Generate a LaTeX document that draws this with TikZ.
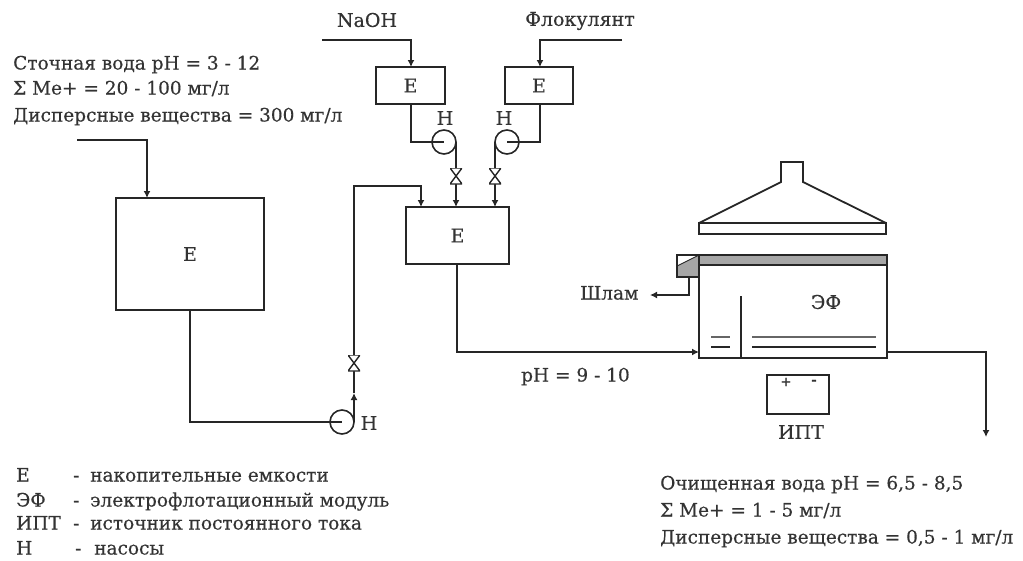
\documentclass[tikz,border=0pt]{standalone}
\usepackage{fontspec}
\setmainfont[FakeBold=0.4]{DejaVu Serif}
\usetikzlibrary{arrows.meta}
\tikzset{
  x=1pt,y=-1pt,
  line/.style={draw=black!85,line width=1.8pt},
  flow/.style={line,-{Latex[length=7pt,width=7pt]}},
  tank/.style={draw=black!85,line width=1.8pt,inner sep=0pt,outer sep=0pt,font=\fontsize{19}{19}\selectfont,text=black!80},
  pump/.style={circle,draw=black!85,line width=1.6pt,minimum size=24pt,inner sep=0pt,outer sep=0pt},
  valve/.style={minimum width=12pt,minimum height=16pt,inner sep=0pt,
    path picture={\draw[black!85,line width=1.4pt,fill=white]
      (path picture bounding box.north west)--(path picture bounding box.north east)
      --(path picture bounding box.south west)--(path picture bounding box.south east)--cycle;}},
  lbl/.style={inner sep=0pt,anchor=base west,yshift=-6.5pt,font=\fontsize{18.5}{20}\selectfont,text=black!80},
  clbl/.style={inner sep=0pt,font=\fontsize{19}{20}\selectfont,text=black!80}
}
\begin{document}
\begin{tikzpicture}
\useasboundingbox (0,0) rectangle (1023,560);
% tanks
\node[tank,minimum width=69pt,minimum height=37pt] (e1) at (410.5,85.5) {Е};
\node[tank,minimum width=68pt,minimum height=37pt] (e2) at (539,85.5) {Е};
\node[tank,minimum width=103pt,minimum height=57pt] (e3) at (457.5,235.5) {Е};
\node[tank,minimum width=148pt,minimum height=112pt] (e4) at (190,254) {Е};
% pumps
\node[pump] (p1) at (444,142) {};
\node[pump] (p2) at (507,142) {};
\node[pump] (p3) at (342,422) {};
\coordinate (f1) at (77,140);
\coordinate (f1b) at (147,140);
\coordinate (n1) at (322,40);
\coordinate (n1b) at (411,40);
\coordinate (n2) at (622,40);
\coordinate (n2b) at (540,40);
% reagent feeds
\draw[flow] (n1)--(n1b)--(e1.north-|n1b);
\draw[flow] (n2)--(n2b)--(e2.north-|n2b);
\draw[flow] (f1)--(f1b)--(e4.north-|f1b);
% E to pumps
\draw[line] (e1.south-|n1b)--(411,142)--(p1.center);
\draw[line] (e2.south-|n2b)--(540,142)--(p2.center);
% pumps to mixer
\draw[flow] (p1.east)--(e3.north-|p1.east);
\draw[flow] (p2.west)--(e3.north-|p2.west);
\node[valve] (v1) at (p1.east|-0,176) {};
\node[valve] (v2) at (p2.west|-0,176) {};
% main line
\draw[line] (e4.south)--(190,422)--(p3.center);
\coordinate (t3) at (354,393);
\draw[flow] (p3.east)--(t3);
\draw[flow] (t3)--(354,186)--(421,186)--(e3.north-|421,0);
\node[valve] (v3) at (354,363) {};
% module
\fill[black!35] (699,255) rectangle (887,265);
\fill[black!35] (677,266) -- (699,255) -- (699,277) -- (677,277) -- cycle;
\node[tank,minimum width=188pt,minimum height=103pt] (ef) at (793,306.5) {};
\draw[line] (699,265)--(887,265);
\node[draw=black!85,line width=1.6pt,inner sep=0pt,outer sep=0pt,minimum width=22pt,minimum height=22pt] (sl) at (688,266) {};
\draw[line,line width=.9pt] (677,266)--(699,255);
\draw[line] (741,296)--(741,358);
\draw[line,black!60] (711,337)--(730,337);
\draw[line] (711,347)--(730,347);
\draw[line,black!60] (752,337)--(876,337);
\draw[line] (752,347)--(876,347);
\node[clbl] (eft) at (826,302) {ЭФ};
\coordinate (s1) at (689,295);
\coordinate (s2) at (650,295);
\draw[flow] (sl.south-|s1)--(s1)--(s2);
\coordinate (c1) at (457,264);
\draw[flow,line width=1.5pt] (c1)--(457,352)--(ef.west|-0,352);
\coordinate (o1) at (986,352);
\coordinate (o2) at (986,437);
\draw[flow] (ef.east|-0,352)--(o1)--(o2);
% hood
\node[draw=black!85,line width=1.6pt,inner sep=0pt,minimum width=187pt,minimum height=11pt] (hb) at (792.5,228.5) {};
\draw[line,line join=miter] (699,223)--(781,182)--(781,162)--(803,162)--(803,182)--(886,223);
% battery
\node[draw=black!85,line width=1.6pt,inner sep=0pt,minimum width=62pt,minimum height=39pt] (bat) at (798,394.5) {};
\node[clbl,font=\bfseries\fontsize{13}{13}\selectfont] (bp) at (786,382) {+};
\node[clbl,font=\bfseries\fontsize{13}{13}\selectfont] (bm) at (814,382) {-};
\node[clbl] (ipt) at (801,432) {ИПТ};
% labels
\node[clbl] (naoh) at (367,20) {NaOH};
\node[clbl] (flo) at (580,21) {Флокулянт};
\node[clbl] (h1) at (445,118) {Н};
\node[clbl] (h2) at (504,118) {Н};
\node[clbl] (h3) at (369,423) {Н};
\node[lbl] (a1) at (13,63) {Сточная вода pH = 3 - 12};
\node[lbl] (a2) at (13,88) {Σ Me+ = 20 - 100 мг/л};
\node[lbl] (a3) at (13,115) {Дисперсные вещества = 300 мг/л};
\node[lbl] (ph) at (521,375) {pH = 9 - 10};
\node[lbl] (shl) at (580,293) {Шлам};
\node[lbl] (b1) at (660,483) {Очищенная вода pH = 6,5 - 8,5};
\node[lbl] (b2) at (660,510) {Σ Me+ = 1 - 5 мг/л};
\node[lbl] (b3) at (660,537) {Дисперсные вещества = 0,5 - 1 мг/л};
\node[lbl] (k1) at (16,475) {Е};
\node[lbl] (k2) at (16,500) {ЭФ};
\node[lbl] (k3) at (16,523) {ИПТ};
\node[lbl] (k4) at (16,548) {Н};
\node[lbl] (m1) at (73,475) {-};
\node[lbl] (m2) at (73,500) {-};
\node[lbl] (m3) at (73,523) {-};
\node[lbl] (m4) at (75,548) {-};
\node[lbl] (d1) at (90,475) {накопительные емкости};
\node[lbl] (d2) at (90,500) {электрофлотационный модуль};
\node[lbl] (d3) at (90,523) {источник постоянного тока};
\node[lbl] (d4) at (94,548) {насосы};
\end{tikzpicture}
\end{document}
